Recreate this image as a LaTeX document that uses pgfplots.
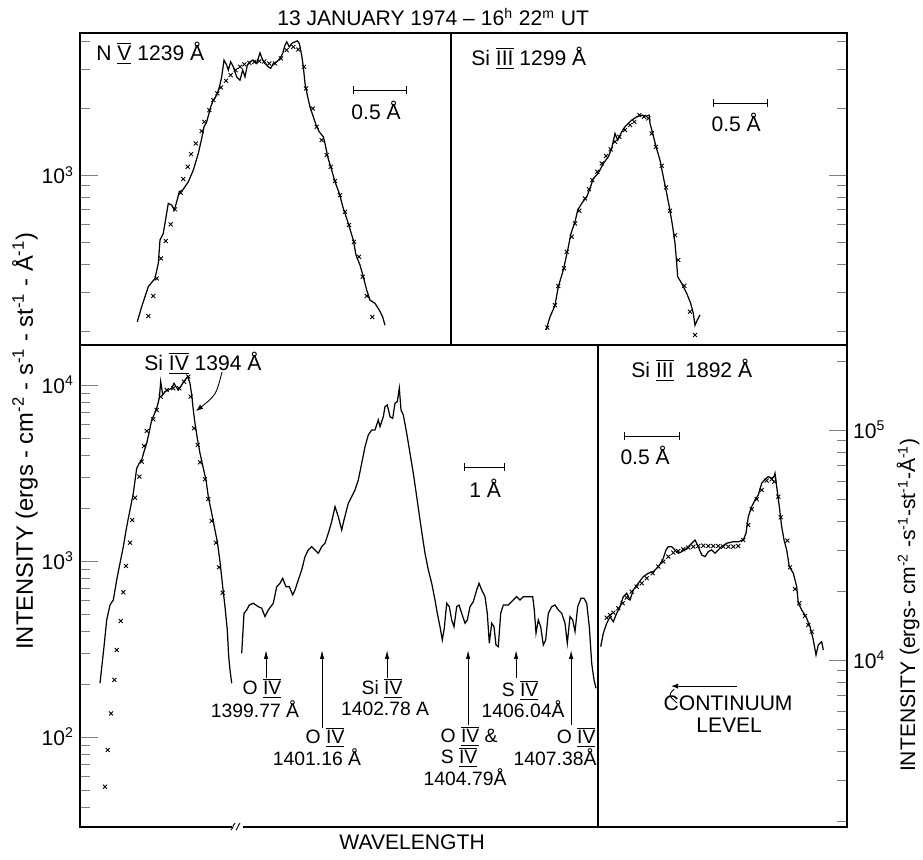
\documentclass[border=0pt]{standalone}
\usepackage{pgfplots}
\pgfplotsset{compat=1.18}
\usepackage{fontspec}
\setmainfont{Liberation Sans}
\usetikzlibrary{arrows.meta}
\newcommand{\RN}[1]{$\overline{\underline{\hbox{#1}}}$}
\pgfplotsset{
  spec/.style={no marks, line width=0.7pt, black},
  model/.style={only marks, mark=x, mark size=1.6pt, mark options={line width=0.5pt}, black},
}
\begin{document}
\begin{tikzpicture}[font=\fontsize{12}{14}\selectfont]
\useasboundingbox (0,0) rectangle (18.46cm,17.2cm);
% ---------------- N V 1239
\begin{axis}[scale only axis, anchor=south west, ymode=log, xtick=\empty,
  axis line style={line width=0.6pt}, major tick length=0.36cm, minor tick length=0.2cm, tick align=inside,
  at={(1.6cm,10.3cm)}, width=7.42cm, height=6.24cm,
  xmin=80, xmax=451, ymin=173, ymax=4340,
  ytick={1000}, yticklabels={10\textsuperscript{3}}, ytick pos=left,
  minor ytick={200,300,400,500,600,700,800,900,2000,3000,4000}]
\addplot[spec] coordinates {(137.3,220)(141.7,257)(148.3,316)(155,344)(158.3,402)(160,511)(163.3,548)(168.3,747)(171.7,734)(174.3,697)(176.7,759)(179.3,842)(182.7,857)(188.3,933)(193.3,1053)(198.3,1251)(201.7,1461)(204,1647)(206.7,1734)(210.7,2024)(213.3,2169)(216.7,2284)(219.3,2473)(221.7,2759)(224,3279)(226.7,3114)(228.3,2957)(230.7,3222)(233.3,3060)(236.7,2759)(240,2667)(242.7,2957)(245,2759)(247.3,3114)(250,3222)(253.3,3279)(256.7,3169)(260,3536)(262.7,3279)(265,3169)(268.3,3060)(270.7,3010)(273.3,3169)(276.7,3222)(280,3337)(282.7,3514)(285,3828)(286.7,3961)(289.3,3762)(291.7,3896)(295,3961)(297.3,4002)(299.3,3896)(301.7,3453)(303.3,3060)(305,2578)(307.3,2284)(310,2024)(313.3,1826)(316.7,1647)(319.3,1564)(323.3,1485)(325,1387)(327.7,1208)(331.7,1053)(335,933)(339.3,828)(343.3,709)(348.3,607)(353.3,511)(356,438)(360,395)(363.3,350)(366.7,305)(370,275)(375,266)(379.3,248)(382.7,231)(385,212)};
\addplot[model] coordinates {(148.3,233)(153.3,287)(156.7,344)(161,423)(165.7,506)(170.7,601)(175,702)(180.7,833)(183.3,960)(187.7,1090)(191,1242)(195.7,1387)(201.7,1575)(204.3,1734)(209.3,1957)(213.3,2169)(217.3,2325)(221,2473)(226,2648)(230.7,2808)(235.7,2957)(240,3060)(244.3,3137)(249.3,3189)(254.3,3222)(259.3,3245)(264.3,3234)(269.3,3169)(275,3169)(281,3337)(286.7,3636)(293.3,3762)(298.3,3662)(304,3060)(306,2448)(312.7,1991)(316.7,1647)(321.7,1435)(326.7,1229)(330.7,1090)(335,940)(340,813)(345,685)(349,597)(354,502)(359,430)(362.7,350)(366.7,287)(372.3,231)};
\end{axis}
% ---------------- Si III 1299
\begin{axis}[scale only axis, anchor=south west, ymode=log, xtick=\empty,
  axis line style={line width=0.6pt}, major tick length=0.36cm, minor tick length=0.2cm, tick align=inside,
  at={(9.02cm,10.3cm)}, width=7.92cm, height=6.24cm,
  xmin=451, xmax=847, ymin=173, ymax=4340,
  ytick={1000}, yticklabels={}, ytick pos=right,
  minor ytick={200,300,400,500,600,700,800,900,2000,3000,4000}]
\addplot[spec] coordinates {(546,202)(550,231)(555,261)(558.3,316)(563.3,375)(567.7,461)(571,548)(575,617)(577.7,697)(581.7,747)(586.7,799)(590,872)(593.3,967)(596.7,1000)(600,1053)(603.3,1128)(608.3,1208)(611.7,1317)(615,1538)(617.7,1435)(621.7,1564)(625,1647)(628.3,1706)(631.7,1765)(636.7,1826)(641.7,1858)(646.7,1839)(649.3,1858)(650,1706)(652.7,1538)(656,1339)(660,1168)(663.3,983)(666,857)(669.3,721)(672.7,586)(675,494)(676.7,402)(677.7,350)(681.7,327)(686.7,295)(690.7,266)(693.3,240)(695,212)(697.3,224)(700,236)};
\addplot[model] coordinates {(547.3,207)(555,261)(558.3,318)(564,382)(566.7,453)(571.7,529)(575,607)(579.3,692)(585,786)(589,865)(592.3,950)(597.3,1035)(601.7,1128)(606,1217)(610.7,1304)(615,1410)(619.3,1485)(625,1592)(630,1676)(634.3,1734)(639.3,1858)(644,1826)(648.3,1796)(651.7,1538)(656,1339)(661.7,1101)(666,881)(670,692)(675,538)(678.3,416)(684.3,319)(690,244)(695,192)};
\end{axis}
% ---------------- Si IV 1394 and 1400-1408 region
\begin{axis}[scale only axis, anchor=south west, ymode=log, xtick=\empty,
  axis line style={line width=0.6pt}, major tick length=0.36cm, minor tick length=0.2cm, tick align=inside,
  at={(1.6cm,0.66cm)}, width=10.36cm, height=9.64cm,
  xmin=80, xmax=598, ymin=30.8, ymax=16870,
  ytick={100,1000,10000}, yticklabels={10\textsuperscript{2},10\textsuperscript{3},10\textsuperscript{4}}, ytick pos=left,
  minor ytick={40,50,60,70,80,90,200,300,400,500,600,700,800,900,2000,3000,4000,5000,6000,7000,8000,9000}]
\addplot[spec] coordinates {(100,202)(104,326)(106.7,462)(110,562)(113.3,600)(116.7,780)(120,970)(123.3,1206)(126.7,1566)(130,1949)(133.3,2425)(136.7,3363)(139.3,3590)(141.7,3749)(144,4179)(146.7,4664)(149.3,5428)(151.7,6326)(154,6754)(156.7,7373)(159.3,8403)(160.7,10441)(162.7,8774)(165,9160)(168.3,9367)(171.7,9577)(174,10225)(176,9780)(178.3,9367)(181.7,10000)(185,10676)(187.7,11147)(190,10225)(191.7,8774)(193.3,7210)(195,6059)(197.3,4979)(200,4092)(203.3,3363)(206,2885)(208.3,2319)(211.7,1867)(214.3,1566)(217.3,1287)(220,991)(222.7,714)(225,550)(227.3,405)(228.7,286)(230,240)(231.7,202)};
\addplot[spec] coordinates {(241.7,299)(244,504)(246.7,527)(249.3,562)(253.3,575)(258.3,550)(261.7,539)(265,483)(268.3,527)(273.3,575)(276.7,714)(280,747)(282.7,797)(286,714)(289.3,714)(292.7,641)(295,684)(298.3,780)(301.7,889)(305,1058)(308.3,1155)(311.7,1206)(315,1155)(318.3,1106)(321.7,1206)(325,1261)(328.3,1437)(331.7,1672)(335,2035)(338.3,1786)(341.7,1500)(344,1710)(348.3,2127)(351.7,2319)(355,2532)(358.3,2885)(361.7,3590)(365,4461)(368.3,5199)(371.7,5551)(375,5551)(378.3,6326)(380,5795)(383.3,6606)(385,7529)(387.3,7698)(390,6606)(392.7,6468)(395,7871)(397.3,8038)(399.3,9577)(401,7210)(403.3,6754)(406.7,5316)(410,4092)(413.3,3150)(416.7,2319)(420,1710)(422.7,1346)(425,1106)(428.3,889)(431.7,747)(435,600)(437.3,504)(440,423)(442.3,356)(444.3,415)(446.7,575)(449.3,550)(451.7,462)(454,423)(456.7,550)(459,562)(461.7,504)(465,443)(467.3,462)(470,550)(473.3,587)(476.7,684)(479,747)(481.7,684)(485,627)(487.3,504)(489.3,341)(491.7,443)(494,423)(496,333)(498.3,326)(500.7,504)(503.3,562)(508.3,562)(513.3,600)(516.7,627)(520,600)(523.3,627)(528.3,627)(532.7,627)(534.3,527)(536,389)(538.3,462)(540.7,423)(543.3,333)(545.7,356)(548.3,504)(551.7,550)(555,562)(558.3,527)(561.7,504)(565,443)(567.3,341)(570,483)(572.7,462)(575,397)(577.7,550)(581,614)(584,614)(586.7,575)(589.3,423)(591.7,262)(594,211)(596,189)};
\addplot[model] coordinates {(105,52.2)(107.7,84.4)(111,136)(114.3,211)(116.7,312)(120.7,456)(123.3,664)(126,937)(130,1271)(132.3,1710)(135,2289)(139.3,3013)(141.7,3666)(144,4502)(146.7,5478)(153.3,6385)(156.7,7210)(160.7,8581)(166.7,9367)(173.3,9577)(179.3,9577)(184,10441)(188.3,11147)(190.7,8581)(194,5675)(197.7,4561)(200,3637)(205,2912)(208.3,2250)(211.7,1688)(216,1271)(219,921)(222.7,660)};
\end{axis}
% ---------------- Si III 1892
\begin{axis}[scale only axis, anchor=south west, ymode=log, xtick=\empty,
  axis line style={line width=0.6pt}, major tick length=0.36cm, minor tick length=0.2cm, tick align=inside,
  at={(11.96cm,0.66cm)}, width=4.98cm, height=9.64cm,
  xmin=598, xmax=847, ymin=1880, ymax=234000,
  ytick={10000,100000}, yticklabels={10\textsuperscript{4},10\textsuperscript{5}},
  ytick pos=right, yticklabel pos=right,
  minor ytick={2000,3000,4000,5000,6000,7000,8000,9000,20000,30000,40000,50000,60000,70000,80000,90000,200000}]
\addplot[spec] coordinates {(600.7,11424)(603.3,13064)(606.7,14437)(610,15427)(613.3,14672)(616.7,15961)(620,17051)(623.3,18848)(626.7,19500)(630,18235)(633.3,20155)(638.3,21553)(643.3,23025)(648.3,23822)(653.3,24206)(658.3,25449)(662.7,27215)(666,30082)(668.3,31091)(671.7,31091)(675,30082)(678.3,29103)(681.7,29573)(686.7,30596)(691.7,32167)(695,33248)(698.3,31091)(701.7,28612)(705,28130)(708.3,29573)(711.7,30082)(715,29103)(718.3,30082)(721.7,31091)(726.7,32167)(733.3,32687)(738.3,32687)(743.3,33248)(746,35554)(748.3,41979)(751.7,46402)(755,49619)(758.3,52168)(761.7,58648)(765,61047)(768.3,62656)(771.7,61662)(774,62656)(775,64825)(776.7,56687)(779.3,46402)(781.7,37980)(784,33248)(786.7,30082)(789.3,25449)(793.3,23822)(796.7,20831)(798.3,17642)(801.7,16497)(806,15427)(810,13953)(813.3,12218)(816,10513)(818.3,11620)(821.7,12011)(823.3,11053)};
\addplot[model] coordinates {(606.7,15272)(610,15692)(613.3,16057)(618.3,16780)(622.7,17642)(626.7,18660)(631.7,19816)(636.7,20831)(641.7,21553)(646.7,22658)(652.7,23822)(658.3,25449)(663.3,26756)(668.3,28130)(673.3,29278)(678.3,29782)(683.3,30293)(688.3,30781)(693.3,31091)(698.3,31310)(703.3,31404)(708.3,31310)(713.3,31310)(718.3,31310)(723.3,31091)(728.3,31091)(733.3,31091)(738.3,31310)(743.3,33248)(748.3,38634)(751.7,45209)(756.7,49967)(761.7,54844)(766.7,60194)(771.7,61047)(774.3,59596)(778.3,51288)(780.7,41728)(787.3,33016)(790,25296)(795,20358)(799.3,17642)(805,15536)(808.3,14198)(811.7,13276)};
\end{axis}
% ---------------- annotations in image-pixel coordinates
\begin{scope}[shift={(0cm,17.2cm)}, x=0.02cm, y=-0.02cm, line width=0.5pt]
\node at (433,17) {13 JANUARY 1974 -- 16\textsuperscript{h} 22\textsuperscript{m} UT};
% top-left
\node[anchor=west] at (90,53) {N \RN{V} 1239 Å};
\draw (353,90) -- (406,90); \draw (353,86) -- (353,94); \draw (406,86) -- (406,94);
\node at (376,110) {0.5 Å};
% top-right
\node[anchor=west] at (465,58) {Si \RN{III} 1299 Å};
\draw (713,103) -- (767,103); \draw (713,99) -- (713,107); \draw (767,99) -- (767,107);
\node at (736,122) {0.5 Å};
% bottom-left
\node[anchor=west] at (138,363) {Si \RN{IV} 1394 Å};
\draw[-{Latex[length=4pt,width=3pt]}] (222,372) .. controls (216,395) .. (196,411);
\draw (464,467) -- (504,467); \draw (464,463) -- (464,471); \draw (504,463) -- (504,471);
\node at (485,488) {1 Å};
\begin{scope}[font=\fontsize{11}{13}\selectfont]
\draw[-{Latex[length=5pt,width=2.5pt]}] (266,678) -- (266,650);
\node at (262,688) {O \RN{IV}}; \node at (255,709) {1399.77 Å};
\draw[-{Latex[length=5pt,width=2.5pt]}] (322,728) -- (322,650);
\node at (325,737) {O \RN{IV}}; \node at (317,757) {1401.16 Å};
\draw[-{Latex[length=5pt,width=2.5pt]}] (387,678) -- (387,650);
\node at (382,688) {Si \RN{IV}}; \node at (385,709) {1402.78 A};
\draw[-{Latex[length=5pt,width=2.5pt]}] (468,725) -- (468,650);
\node at (469,736) {O \RN{IV} \&}; \node at (459,757) {S \RN{IV}}; \node at (465,777) {1404.79Å};
\draw[-{Latex[length=5pt,width=2.5pt]}] (516,678) -- (516,650);
\node at (520,690) {S \RN{IV}}; \node at (523,709) {1406.04Å};
\draw[-{Latex[length=5pt,width=2.5pt]}] (571,725) -- (571,650);
\node at (576,737) {O \RN{IV}}; \node at (555,757) {1407.38Å};
\end{scope}
% break mark
\fill[white] (232,824) rectangle (243,830);
\draw (231,830) .. controls (234,826) and (232,826) .. (235,823);
\draw (236,830) .. controls (239,826) and (237,826) .. (240,823);
% bottom-right
\node[anchor=west] at (625,370) {Si \RN{III} \ 1892 Å};
\draw (624,436) -- (679,436); \draw (624,432) -- (624,440); \draw (679,432) -- (679,440);
\node at (645,455) {0.5 Å};
\draw[{Latex[length=4pt,width=3pt]}-] (671,686) -- (737,686);
\draw (674,689) .. controls (668,695) .. (677,703);
\node at (728,703) {CONTINUUM};
\node at (729,725) {LEVEL};
% axis titles
\node at (412,842) {WAVELENGTH};
\node[rotate=90, font=\fontsize{13.5}{15}\selectfont] at (25,441) {INTENSITY (ergs - cm\textsuperscript{-2} - s\textsuperscript{-1} - st\textsuperscript{-1} - Å\textsuperscript{-1})};
\node[rotate=90] at (908,605) {INTENSITY (ergs- cm\textsuperscript{-2} -s\textsuperscript{-1}-st\textsuperscript{-1}-Å\textsuperscript{-1})};
\end{scope}
\end{tikzpicture}
\end{document}
